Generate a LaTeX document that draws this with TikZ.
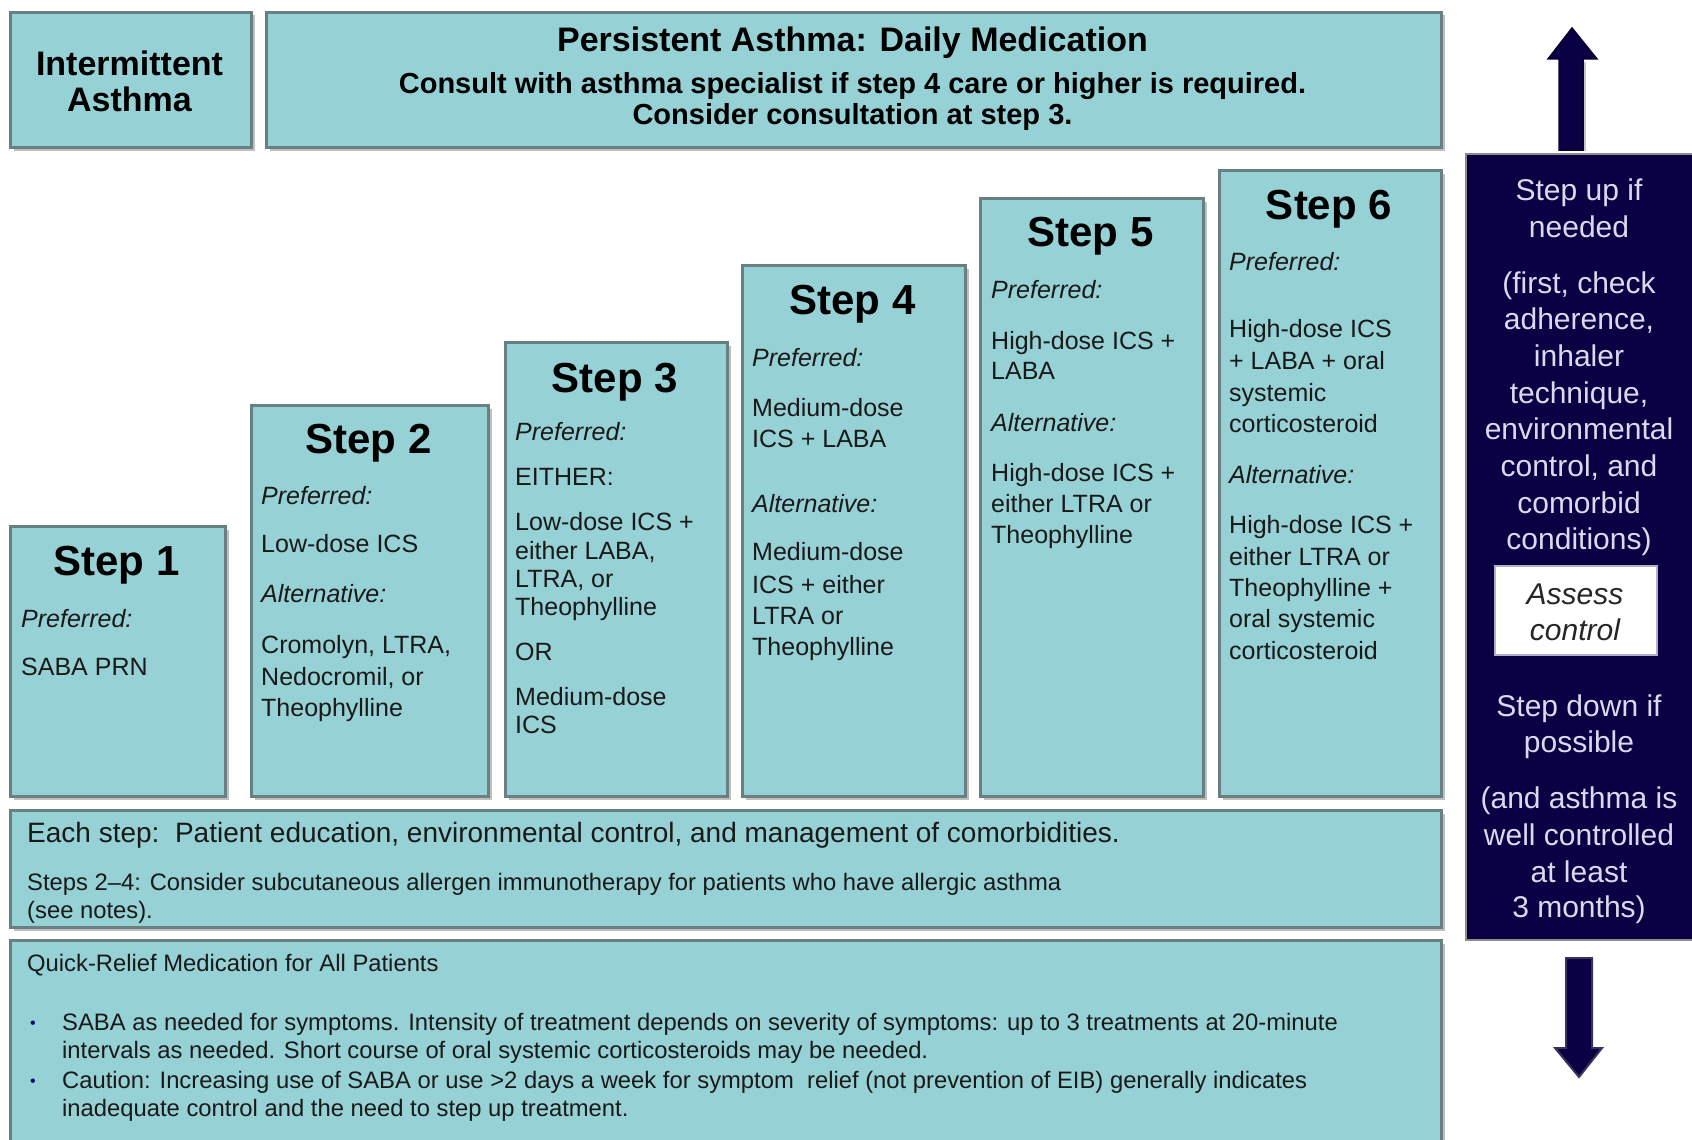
\documentclass[tikz,border=0pt]{standalone}
\usepackage{fontspec}
\setmainfont{Liberation Sans}
\definecolor{tealfill}{RGB}{150,209,213}
\definecolor{bord}{RGB}{104,128,130}
\definecolor{navyfill}{RGB}{10,0,68}
\definecolor{lav}{RGB}{218,218,238}
\newcommand\tline[5]{\node[#1] (#2) at (#3,#4) {#5};}
\tikzset{
  box/.style={draw=bord, line width=3pt, fill=tealfill, anchor=north west, inner sep=0pt,
    preaction={fill=black!25, transform canvas={shift={(3pt,-3pt)}}}},
  L/.style={anchor=base west, inner sep=0pt, text=black!90},
  C/.style={anchor=base, inner sep=0pt, text=black!90},
  body/.style={L, font=\fontsize{25}{30}\selectfont},
  ital/.style={L, font=\fontsize{25}{30}\selectfont\itshape},
  steptitle/.style={C, font=\fontsize{42}{50}\selectfont\bfseries, text=black},
  rtxt/.style={C, font=\fontsize{30}{36}\selectfont, text=lav},
  small/.style={L, font=\fontsize{23.8}{28}\selectfont},
}
\begin{document}
\begin{tikzpicture}[x=1pt,y=-1pt]
\clip (0,0) rectangle (1692,1140);
\fill[white] (0,0) rectangle (1692,1140);
% top boxes
\node[box, minimum width=241pt, minimum height=135pt] (inter) at (9,11) {};
\node[box, minimum width=1175pt, minimum height=135pt] (pers) at (265,11) {};
% step boxes
\node[box, minimum width=215pt, minimum height=270pt] (s1) at (9,525) {};
\node[box, minimum width=237pt, minimum height=391pt] (s2) at (250,404) {};
\node[box, minimum width=222pt, minimum height=454pt] (s3) at (504,341) {};
\node[box, minimum width=223pt, minimum height=531pt] (s4) at (741,264) {};
\node[box, minimum width=223pt, minimum height=598pt] (s5) at (979,197) {};
\node[box, minimum width=222pt, minimum height=626pt] (s6) at (1218,169) {};
% bottom boxes
\node[box, minimum width=1431pt, minimum height=117pt] (each) at (9,809) {};
\node[box, minimum width=1431pt, minimum height=240pt] (quick) at (9,939) {};
% dark box
\node[draw=black!45, line width=2pt, fill=navyfill, anchor=north west, inner sep=0pt,
  minimum width=240pt, minimum height=786pt] (dark) at (1465,153) {};
\node[draw=lav!80!navyfill, line width=2pt, fill=white, anchor=north west, inner sep=0pt,
  minimum width=162pt, minimum height=89pt] (assess) at (1494,565) {};
% arrows
\draw[black!22, line width=2pt] (1585,62) -- (1585,151);
\filldraw[fill=navyfill, draw=navyfill!70!black, line width=1.5pt]
  (1572,28) -- (1597,59) -- (1583,59) -- (1583,150) -- (1559,150) -- (1559,59) -- (1548,59) -- cycle;
\filldraw[fill=navyfill, draw=navyfill!60!gray, line width=2pt]
  (1566,958) -- (1592,958) -- (1592,1048) -- (1602,1048) -- (1579,1077) -- (1555,1048) -- (1566,1048) -- cycle;
% top texts
\tline{C, font=\fontsize{34}{40}\selectfont\bfseries, text=black}{t1}{129.5}{75}{Intermittent}
\tline{C, font=\fontsize{34}{40}\selectfont\bfseries, text=black}{t2}{129.5}{111}{Asthma}
\tline{C, font=\fontsize{34}{40}\selectfont\bfseries, text=black}{p1}{852.5}{52}{Persistent Asthma: Daily Medication}
\tline{C, font=\fontsize{29}{34}\selectfont\bfseries, text=black}{p2}{852.5}{93}{Consult with asthma specialist if step 4 care or higher is required.}
\tline{C, font=\fontsize{29}{34}\selectfont\bfseries, text=black}{p3}{852.5}{124}{Consider consultation at step 3.}
% step 1
\tline{steptitle}{s1t}{116.5}{575}{Step 1}
\tline{ital}{s1a}{21}{627}{Preferred:}
\tline{body}{s1b}{21}{675}{SABA PRN}
% step 2
\tline{steptitle}{s2t}{368.5}{453}{Step 2}
\tline{ital}{s2a}{261}{504}{Preferred:}
\tline{body}{s2b}{261}{552}{Low-dose ICS}
\tline{ital}{s2c}{261}{602}{Alternative:}
\tline{body}{s2d}{261}{653}{Cromolyn, LTRA,}
\tline{body}{s2e}{261}{685}{Nedocromil, or}
\tline{body}{s2f}{261}{716}{Theophylline}
% step 3
\tline{steptitle}{s3t}{615}{392}{Step 3}
\tline{ital}{s3a}{515}{440}{Preferred:}
\tline{body}{s3b}{515}{485}{EITHER:}
\tline{body}{s3c}{515}{530}{Low-dose ICS +}
\tline{body}{s3d}{515}{559}{either LABA,}
\tline{body}{s3e}{515}{587}{LTRA, or}
\tline{body}{s3f}{515}{615}{Theophylline}
\tline{body}{s3g}{515}{660}{OR}
\tline{body}{s3h}{515}{705}{Medium-dose}
\tline{body}{s3i}{515}{733}{ICS}
% step 4
\tline{steptitle}{s4t}{852.5}{314}{Step 4}
\tline{ital}{s4a}{752}{366}{Preferred:}
\tline{body}{s4b}{752}{416}{Medium-dose}
\tline{body}{s4c}{752}{447}{ICS + LABA}
\tline{ital}{s4d}{752}{512}{Alternative:}
\tline{body}{s4e}{752}{560}{Medium-dose}
\tline{body}{s4f}{752}{593}{ICS + either}
\tline{body}{s4g}{752}{624}{LTRA or}
\tline{body}{s4h}{752}{655}{Theophylline}
% step 5
\tline{steptitle}{s5t}{1090.5}{246}{Step 5}
\tline{ital}{s5a}{991}{298}{Preferred:}
\tline{body}{s5b}{991}{349}{High-dose ICS +}
\tline{body}{s5c}{991}{379}{LABA}
\tline{ital}{s5d}{991}{431}{Alternative:}
\tline{body}{s5e}{991}{481}{High-dose ICS +}
\tline{body}{s5f}{991}{512}{either LTRA or}
\tline{body}{s5g}{991}{543}{Theophylline}
% step 6
\tline{steptitle}{s6t}{1329}{219}{Step 6}
\tline{ital}{s6a}{1229}{270}{Preferred:}
\tline{body}{s6b}{1229}{337}{High-dose ICS}
\tline{body}{s6c}{1229}{369}{+ LABA + oral}
\tline{body}{s6d}{1229}{401}{systemic}
\tline{body}{s6e}{1229}{432}{corticosteroid}
\tline{ital}{s6f}{1229}{483}{Alternative:}
\tline{body}{s6g}{1229}{533}{High-dose ICS +}
\tline{body}{s6h}{1229}{565}{either LTRA or}
\tline{body}{s6i}{1229}{596}{Theophylline +}
\tline{body}{s6j}{1229}{627}{oral systemic}
\tline{body}{s6k}{1229}{659}{corticosteroid}
% right column
\tline{rtxt}{r1}{1579}{200}{Step up if}
\tline{rtxt}{r2}{1579}{237}{needed}
\tline{rtxt}{r3}{1579}{293}{(first, check}
\tline{rtxt}{r4}{1579}{329}{adherence,}
\tline{rtxt}{r5}{1579}{366}{inhaler}
\tline{rtxt}{r6}{1579}{403}{technique,}
\tline{rtxt}{r7}{1579}{439}{environmental}
\tline{rtxt}{r8}{1579}{476}{control, and}
\tline{rtxt}{r9}{1579}{513}{comorbid}
\tline{rtxt}{r10}{1579}{549}{conditions)}
\tline{C, font=\fontsize{30}{36}\selectfont\itshape, text=black!85}{a1}{1575}{604}{Assess}
\tline{C, font=\fontsize{30}{36}\selectfont\itshape, text=black!85}{a2}{1575}{640}{control}
\tline{rtxt}{r11}{1579}{716}{Step down if}
\tline{rtxt}{r12}{1579}{752}{possible}
\tline{rtxt}{r13}{1579}{808}{(and asthma is}
\tline{rtxt}{r14}{1579}{845}{well controlled}
\tline{rtxt}{r15}{1579}{882}{at least}
\tline{rtxt}{r16}{1579}{917}{3 months)}
% bottom texts
\tline{L, font=\fontsize{28}{32}\selectfont}{e1}{27}{842}{Each step:\ \ Patient education, environmental control, and management of comorbidities.}
\tline{small}{e2}{27}{890}{Steps 2--4: Consider subcutaneous allergen immunotherapy for patients who have allergic asthma}
\tline{small}{e3}{27}{918}{(see notes).}
\tline{small}{q0}{27}{971}{Quick-Relief Medication for All Patients}
\tline{L, font=\fontsize{16}{20}\selectfont, text=blue!50!black}{b1}{30}{1028}{\textbullet}
\tline{small}{q1}{62}{1030}{SABA as needed for symptoms. Intensity of treatment depends on severity of symptoms: up to 3 treatments at 20-minute}
\tline{small}{q2}{62}{1058}{intervals as needed. Short course of oral systemic corticosteroids may be needed.}
\tline{L, font=\fontsize{16}{20}\selectfont, text=blue!50!black}{b2}{30}{1086}{\textbullet}
\tline{small}{q3}{62}{1088}{Caution: Increasing use of SABA or use >2 days a week for symptom\ \ relief (not prevention of EIB) generally indicates}
\tline{small}{q4}{62}{1116}{inadequate control and the need to step up treatment.}
\end{tikzpicture}
\end{document}
